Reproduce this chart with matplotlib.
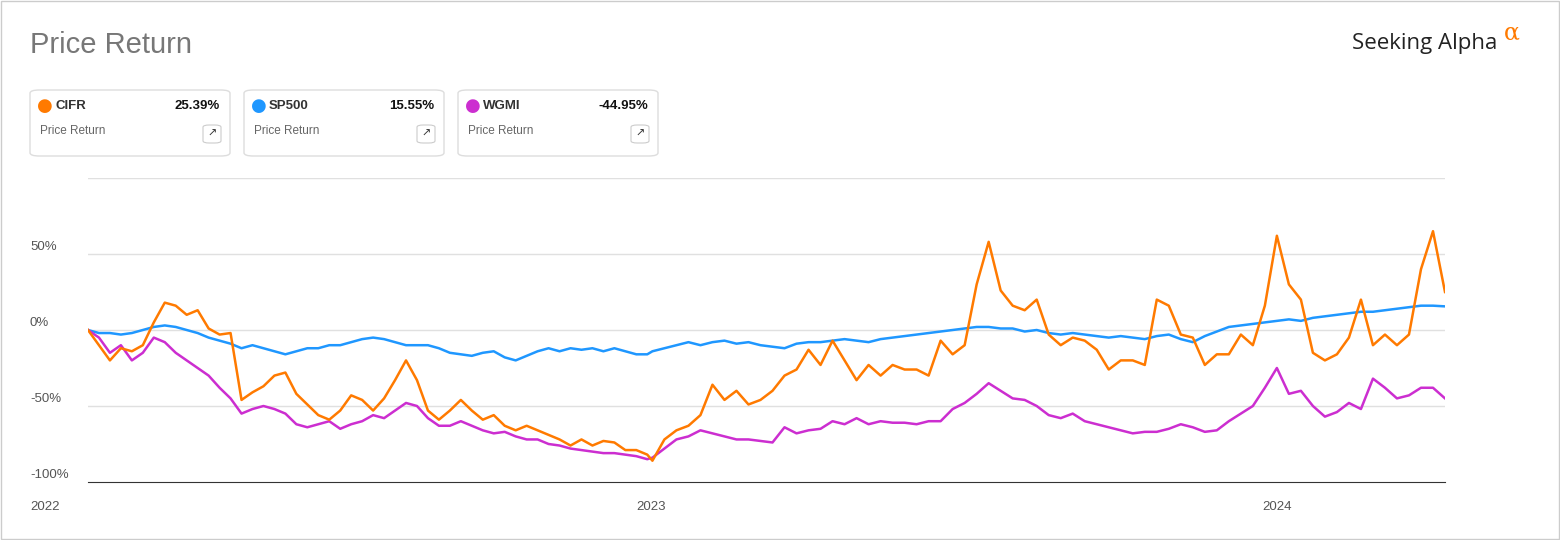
import numpy as np
import pandas as pd
import matplotlib.pyplot as plt
from matplotlib.patches import FancyBboxPatch, Rectangle

plt.rcParams['font.family'] = ['Liberation Sans', 'DejaVu Sans']

# weekly samples (percent price return)
dates = (list(pd.date_range('2022-02-07', '2022-12-30', periods=52))
         + list(pd.date_range('2023-01-02', periods=52, freq='7D'))
         + list(pd.date_range('2024-01-01', periods=15, freq='7D')))

cifr = [0, -10, -20, -12, -14, -10, 5, 18, 16, 10, 13, 1, -3, -2, -46, -41, -37, -30, -28, -42,
        -49, -56, -59, -53, -43, -46, -53, -45, -33, -20, -33, -53, -59, -53, -46, -53, -59, -56, -63, -66,
        -63, -66, -69, -72, -76, -72, -76, -73, -74, -79, -79, -82,
        -86, -72, -66, -63, -56, -36, -46, -40, -49, -46, -40, -30, -26, -13, -23, -7, -20, -33, -23, -30,
        -23, -26, -26, -30, -7, -16, -10, 30, 58, 26, 16, 13, 20, -3, -10, -5, -7, -13, -26, -20,
        -20, -23, 20, 16, -3, -5, -23, -16, -16, -3, -10, 16,
        62, 30, 20, -15, -20, -16, -5, 20, -10, -3, -10, -3, 40, 65, 25]

sp500 = [0, -2, -2, -3, -2, 0, 2, 3, 2, 0, -2, -5, -7, -9, -12, -10, -12, -14, -16, -14,
         -12, -12, -10, -10, -8, -6, -5, -6, -8, -10, -10, -10, -12, -15, -16, -17, -15, -14, -18, -20,
         -17, -14, -12, -14, -12, -13, -12, -14, -12, -14, -16, -16,
         -14, -12, -10, -8, -10, -8, -7, -9, -8, -10, -11, -12, -9, -8, -8, -7, -6, -7, -8, -6,
         -5, -4, -3, -2, -1, 0, 1, 2, 2, 1, 1, -1, 0, -2, -3, -2, -3, -4, -5, -4,
         -5, -6, -4, -3, -6, -8, -4, -1, 2, 3, 4, 5,
         6, 7, 6, 8, 9, 10, 11, 12, 12, 13, 14, 15, 16, 16, 15.55]

wgmi = [0, -5, -15, -10, -20, -15, -5, -8, -15, -20, -25, -30, -38, -45, -55, -52, -50, -52, -55, -62,
        -64, -62, -60, -65, -62, -60, -56, -58, -53, -48, -50, -58, -63, -63, -60, -63, -66, -68, -67, -70,
        -72, -72, -75, -76, -78, -79, -80, -81, -81, -82, -83, -85,
        -84, -78, -72, -70, -66, -68, -70, -72, -72, -73, -74, -64, -68, -66, -65, -60, -62, -58, -62, -60,
        -61, -61, -62, -60, -60, -52, -48, -42, -35, -40, -45, -46, -50, -56, -58, -55, -60, -62, -64, -66,
        -68, -67, -67, -65, -62, -64, -67, -66, -60, -55, -50, -38,
        -25, -42, -40, -50, -57, -54, -48, -52, -32, -38, -45, -43, -38, -38, -45]

names = ['CIFR', 'SP500', 'WGMI']
totals = ['25.39%', '15.55%', '-44.95%']
colors = ['#ff7a00', '#1f97ff', '#cc2ed0']
y_ticks = [50, 0, -50, -100]

fig = plt.figure(figsize=(15.6, 5.4), dpi=100)
fig.patches.append(Rectangle((0.0005, 0.001), 0.999, 0.998, transform=fig.transFigure,
                             fill=False, edgecolor='#cccccc', lw=1))
fig.text(30/1560, 1-45/540, 'Price Return', fontsize=21, color='#777777', va='center')
fig.text(1352/1560, 1-43/540, 'Seeking Alpha', fontsize=16, color='#222222', va='center',
         family='Open Sans')
fig.text(1504/1560, 1-33/540, 'α', fontsize=17, color='#ff7a00', va='center', family='DejaVu Serif')

# legend cards
for i, (n, t, c) in enumerate(zip(names, totals, colors)):
    x0 = 30 + i * 214
    fig.patches.append(FancyBboxPatch((x0/1560, 1-156/540), 200/1560, 66/540, transform=fig.transFigure,
                                      boxstyle='round,pad=0,rounding_size=0.006', fill=False,
                                      edgecolor='#dddddd', lw=1))
    fig.text((x0+7)/1560, 1-106/540, '●', color=c, fontsize=13, va='center', family='DejaVu Sans')
    fig.text((x0+25)/1560, 1-106/540, n, fontsize=9.5, weight='bold', color='#333333', va='center')
    fig.text((x0+190)/1560, 1-106/540, t, fontsize=9.5, weight='bold', color='#111111', va='center', ha='right')
    fig.text((x0+10)/1560, 1-131/540, 'Price Return', fontsize=8.5, color='#666666', va='center')
    fig.patches.append(FancyBboxPatch(((x0+173)/1560, 1-143/540), 18/1560, 18/540, transform=fig.transFigure,
                                      boxstyle='round,pad=0,rounding_size=0.004', fill=False,
                                      edgecolor='#cccccc', lw=0.8))
    fig.text((x0+182)/1560, 1-134/540, '↗', fontsize=8, color='#333333', va='center', ha='center',
             family='DejaVu Sans')

ax = fig.add_axes([88/1560, 1-482/540, 1357/1560, 304/540])
for s, c in zip([sp500, wgmi, cifr], [colors[1], colors[2], colors[0]]):
    ax.plot(dates, s, color=c, lw=1.8)
ax.set_xlim(dates[0], dates[-1])
ax.set_ylim(-100, 100)
for v in [100, 50, 0, -50]:
    ax.axhline(v, color='#e0e0e0', lw=1, zorder=0)
for sp in ['top', 'right', 'left']:
    ax.spines[sp].set_visible(False)
ax.spines['bottom'].set_color('#333333')
ax.set_yticks([])
ax.set_xticks([])
for v in y_ticks:
    ax.text(-58/1357, (v + 100) / 200 + 7/304, f'{v}%', transform=ax.transAxes, fontsize=9.5,
            color='#555555', va='center', ha='left')
ax.text(-58/1357, -25/304, '2022', transform=ax.transAxes, fontsize=9.5, color='#555555', va='center')
for lbl, d in [('2023', pd.Timestamp('2023-01-01')), ('2024', pd.Timestamp('2024-01-01'))]:
    ax.text(d, -100 - 25*200/304, lbl, fontsize=9.5, color='#555555', va='center', ha='center')

fig.savefig('out.png', dpi=100)
